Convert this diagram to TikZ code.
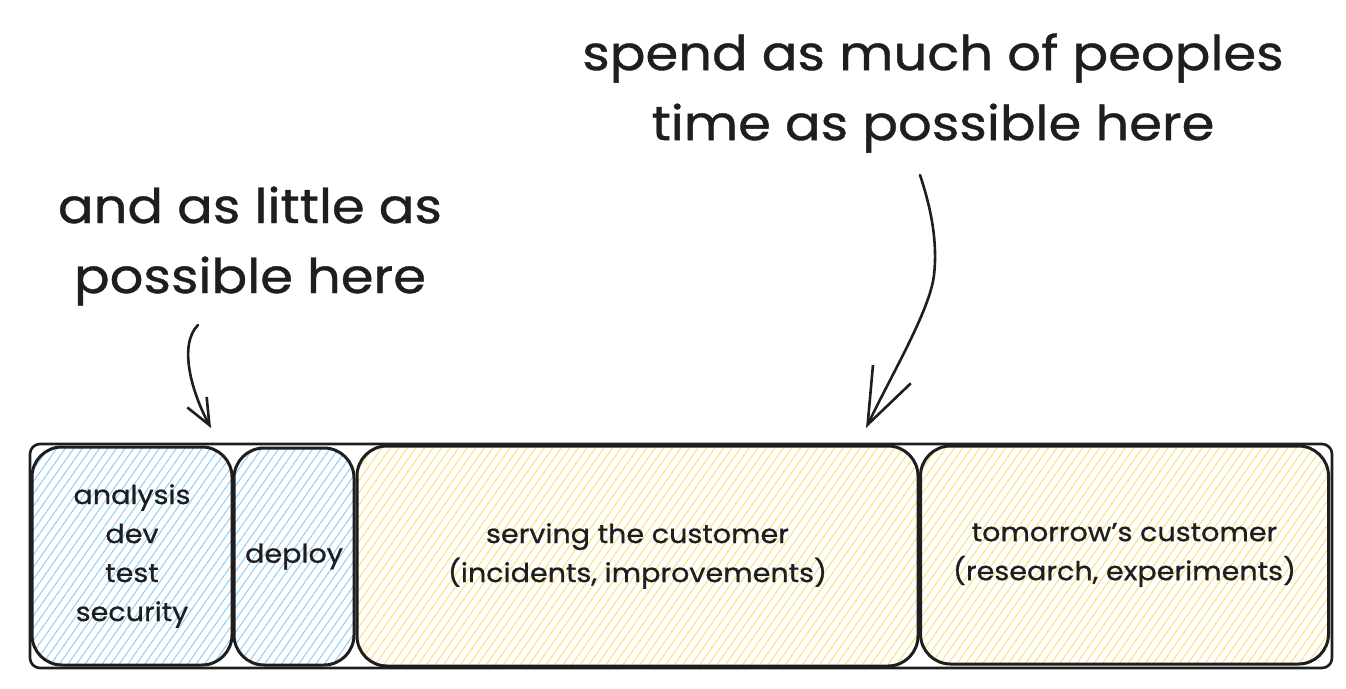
\documentclass[tikz,border=0pt]{standalone}
\usepackage{fontspec}
\setmainfont{Poppins}[FakeStretch=1.1,FakeBold=0.8]
\usetikzlibrary{patterns.meta,arrows.meta}
\definecolor{ink}{HTML}{1E1E1E}
\definecolor{bluehatch}{HTML}{8FCDF7}
\definecolor{yellowhatch}{HTML}{FCDF7A}
\tikzset{
  box/.style={draw=ink, line width=3pt, rounded corners=30pt, inner sep=0pt,
    align=center, font=\fontsize{26}{39}\selectfont, text=ink},
  bluebox/.style={box, pattern={Lines[angle=55,distance=7pt,line width=1pt]}, pattern color=bluehatch},
  yellowbox/.style={box, pattern={Lines[angle=55,distance=7pt,line width=1pt]}, pattern color=yellowhatch},
  framebox/.style={draw=ink, line width=2.6pt, rounded corners=10pt, inner sep=0pt},
  note/.style={align=center, font=\fontsize{48}{70}\selectfont, text=ink},
  callout/.style={draw=ink, line width=2.6pt, line cap=round, line join=round},
}
\begin{document}
\begin{tikzpicture}[x=1pt,y=-1pt]
\useasboundingbox (0,0) rectangle (1346,688);
\node[framebox, minimum width=1302pt, minimum height=224pt] (frame) at (681,556) {};
\node[bluebox, minimum width=200pt, minimum height=218pt] (analysis) at (132,556) {analysis\\dev\\test\\security};
\node[bluebox, minimum width=120pt, minimum height=217pt] (deploy) at (294,556.5) {deploy};
\node[yellowbox, minimum width=561pt, minimum height=220pt] (serving) at (637.5,556) {serving the customer\\(incidents, improvements)};
\node[yellowbox, minimum width=408pt, minimum height=218pt] (tomorrow) at (1124.5,555) {tomorrow’s customer\\(research, experiments)};
\node[note] (spend) at (933,93) {spend as much of peoples\\time as possible here};
\node[note] (little) at (250,246) {and as little as\\possible here};
\coordinate (s1) at (198,325);
\coordinate (t1) at (211,428);
\coordinate (s2) at (920,175);
\coordinate (m2) at (934,275);
\coordinate (t2) at (866,428);
\draw[callout, -{Straight Barb[length=26pt,width=22pt,line width=2.6pt]}] (s1) .. controls (178,345) and (192,393) .. (t1);
\draw[callout, -{Straight Barb[length=56pt,width=42pt,line width=2.6pt]}] (s2) .. controls (930,205) and (938,240) .. (m2) .. controls (930,310) and (892,374) .. (t2);
\end{tikzpicture}
\end{document}
